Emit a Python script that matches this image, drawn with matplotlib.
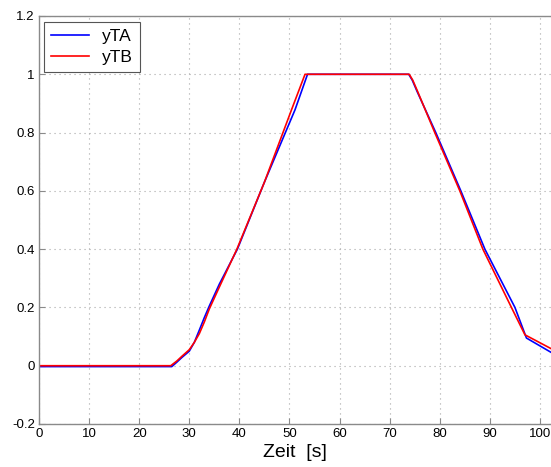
import matplotlib
matplotlib.use("Agg")
import matplotlib.pyplot as plt
from matplotlib.ticker import FuncFormatter

# yTA (blue)
ta_t = [0, 26.5, 27.5, 28.5, 30.0, 31.0, 32.0, 33.0, 34.0, 36.0, 39.6, 45.0,
        51.1, 53.6, 73.8, 74.5, 75.5, 79.2, 84.2, 89.0, 95.0, 97.3, 102.5]
ta_y = [-0.003, -0.003, 0.012, 0.028, 0.05, 0.08, 0.122, 0.165, 0.205, 0.28,
        0.40, 0.63, 0.878, 1.0, 1.0, 0.98, 0.94, 0.8, 0.6, 0.4, 0.2, 0.095, 0.043]

# yTB (red)
tb_t = [0, 26.3, 27.5, 28.5, 30.0, 31.0, 32.0, 33.0, 34.0, 36.0, 39.5, 45.0,
        50.4, 53.1, 73.9, 74.6, 75.6, 79.0, 84.0, 88.6, 94.3, 97.0, 102.5]
tb_y = [0.0, 0.0, 0.016, 0.032, 0.055, 0.08, 0.11, 0.15, 0.195, 0.27,
        0.40, 0.63, 0.878, 1.0, 1.0, 0.98, 0.94, 0.8, 0.6, 0.4, 0.2, 0.106, 0.056]

xticks = [0, 10, 20, 30, 40, 50, 60, 70, 80, 90, 100]
yticks = [-0.2, 0, 0.2, 0.4, 0.6, 0.8, 1.0, 1.2]

plt.rcParams["font.family"] = ["Liberation Sans", "DejaVu Sans"]
plt.rcParams["axes.unicode_minus"] = False

fig = plt.figure(figsize=(5.51, 4.67), dpi=100)
ax = fig.add_axes([39 / 551, 43 / 467, 512 / 551, 408 / 467])

ax.plot(ta_t, ta_y, color="#0000ff", lw=1.2, label="yTA")
ax.plot(tb_t, tb_y, color="#ff0000", lw=1.2, label="yTB")

ax.set_xlim(0, 102.2)
ax.set_ylim(-0.2, 1.2)
ax.set_xticks(xticks)
ax.set_yticks(yticks)
ax.yaxis.set_major_formatter(FuncFormatter(lambda v, p: "%g" % round(v, 2)))

# sparser dots, closer to the reference grid
ax.grid(True, linestyle=(0, (1, 3.5)), color="#a8a8a8", lw=0.8)
ax.tick_params(direction="in", length=4, color="#8a8a8a", labelsize=9.5,
               pad=3, top=False, right=False)
for side in ["left", "bottom", "top"]:
    ax.spines[side].set_color("#8a8a8a")
    ax.spines[side].set_linewidth(1.0)
ax.spines["right"].set_visible(False)

ax.set_xlabel("Zeit  [s]", fontsize=14, labelpad=3)

leg = ax.legend(loc="upper left", fontsize=12.5, fancybox=False,
                framealpha=1, edgecolor="#555555", borderpad=0.4,
                handlelength=2.2, handletextpad=0.75, labelspacing=0.3,
                borderaxespad=0, bbox_to_anchor=(0.01, 0.985))
leg.get_frame().set_linewidth(0.8)

fig.savefig("out.png", dpi=100)
